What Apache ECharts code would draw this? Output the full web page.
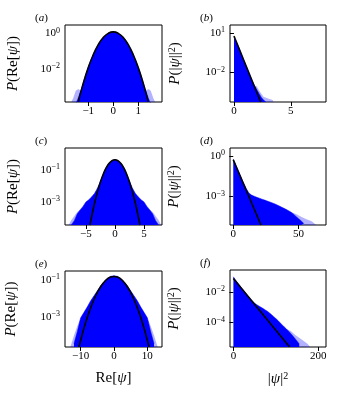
<!DOCTYPE html>
<html>
<head>
<meta charset="utf-8">
<script src="https://cdn.jsdelivr.net/npm/echarts@6/dist/echarts.min.js"></script>
<style>html,body{margin:0;background:#fff}</style>
</head>
<body>
<div id="chart" style="width:338px;height:400px"></div>
<script>
// all heights are log10 of the probability density
// fringe = the faint outer edge of the histograms (null splits left / right tail)

// (a) Re[psi], weak case
const aBinX = [-1.5,-1.4,-1.3,-1.2,-1.1,-1.0,-0.9,-0.8,-0.7,-0.6,-0.5,-0.4,-0.3,-0.2,-0.1,0,0.1,0.2,0.3,0.4,0.5,0.6,0.7,0.8,0.9,1.0,1.1,1.2,1.3,1.4,1.5]
const aHist = [-3.95,-3.6,-3.2,-2.75,-2.3,-1.9,-1.52,-1.18,-0.89,-0.63,-0.41,-0.23,-0.09,0.0,0.06,0.08,0.06,0.0,-0.09,-0.23,-0.41,-0.63,-0.89,-1.18,-1.52,-1.9,-2.3,-2.75,-3.2,-3.6,-3.95]
const aFringeX = [-1.7,-1.6,-1.5,-1.4,-1.3,null,1.3,1.4,1.5,1.6,1.7]
const aFringe = [-3.9,-3.6,-3.2,-3.1,-3.2,null,-3.2,-3.1,-3.2,-3.6,-3.9]
const aFitX = [-1.4,-1.2,-1.0,-0.8,-0.6,-0.4,-0.2,0,0.2,0.4,0.6,0.8,1.0,1.2,1.4]
const aFit = [-3.82,-2.79,-1.91,-1.19,-0.63,-0.23,0.005,0.085,0.005,-0.23,-0.63,-1.19,-1.91,-2.79,-3.82]

// (b) |psi|^2, weak case
const bBinX = [0,0.2,0.4,0.6,0.8,1.0,1.2,1.4,1.6,1.8,2.0,2.2,2.4,2.6,2.8]
const bHist = [0.7,0.38,-0.03,-0.47,-0.92,-1.35,-1.78,-2.2,-2.62,-3.0,-3.3,-3.6,-3.9,-4.1,-4.25]
const bFringeX = [1.8,2.0,2.3,2.6,3.0,3.4,3.5]
const bFringe = [-3.0,-3.05,-3.5,-3.85,-4.0,-4.1,-4.3]
const bFitX = [0,2.35]
const bFit = [0.8,-4.26]

// (c) Re[psi], intermediate case
const cBinX = [-7.5,-7,-6.5,-6,-5.5,-5,-4.5,-4,-3.5,-3,-2.5,-2,-1.5,-1,-0.5,0,0.5,1,1.5,2,2.5,3,3.5,4,4.5,5,5.5,6,6.5,7,7.5]
const cHist = [-4.45,-4.2,-3.78,-3.52,-3.3,-3.02,-2.88,-2.7,-2.48,-2.15,-1.72,-1.25,-0.86,-0.58,-0.42,-0.36,-0.42,-0.58,-0.86,-1.25,-1.72,-2.15,-2.48,-2.7,-2.88,-3.02,-3.3,-3.52,-3.78,-4.2,-4.45]
const cFringeX = [-8.0,-7.5,-7,-6.5,-6,null,6,6.5,7,7.5,8.0]
const cFringe = [-4.5,-4.15,-3.9,-3.65,-3.52,null,-3.52,-3.65,-3.9,-4.15,-4.5]
const cFitX = [-4.3,-4,-3.5,-3,-2.5,-2,-1.5,-1,-0.5,0,0.5,1,1.5,2,2.5,3,3.5,4,4.3]
const cFit = [-4.47,-3.92,-3.09,-2.37,-1.76,-1.26,-0.87,-0.59,-0.43,-0.37,-0.43,-0.59,-0.87,-1.26,-1.76,-2.37,-3.09,-3.92,-4.47]

// (d) |psi|^2, intermediate case
const dBinX = [0,2,4,6,8,10,12,14,16,18,20,22,24,26,28,30,32,34,36,38,40,42,44,46,48,50,52,54]
const dHist = [-0.22,-0.68,-1.13,-1.58,-2.02,-2.42,-2.75,-2.9,-2.98,-3.06,-3.13,-3.2,-3.27,-3.34,-3.41,-3.48,-3.56,-3.65,-3.74,-3.84,-3.94,-4.04,-4.15,-4.3,-4.48,-4.65,-4.82,-5.0]
const dFringeX = [44,48,52,56,60,64]
const dFringe = [-4.15,-4.3,-4.5,-4.7,-4.85,-5.15]
const dFitX = [0,21.2]
const dFit = [-0.27,-5.12]

// (e) Re[psi], strong case
const eBinX = [-12,-11,-10,-9,-8,-7,-6,-5,-4,-3,-2,-1,0,1,2,3,4,5,6,7,8,9,10,11,12]
const eHist = [-4.45,-3.8,-3.05,-2.75,-2.45,-2.12,-1.85,-1.58,-1.3,-1.08,-0.9,-0.79,-0.76,-0.79,-0.9,-1.08,-1.3,-1.58,-1.85,-2.12,-2.45,-2.75,-3.05,-3.8,-4.45]
const eFringeX = [-13.2,-12.5,-12,-11,-10,null,10,11,12,12.5,13.2]
const eFringe = [-4.7,-4.3,-4.0,-3.5,-3.05,null,-3.05,-3.5,-4.0,-4.3,-4.7]
const eFitX = [-10.5,-10,-9,-8,-7,-6,-5,-4,-3,-2,-1,0,1,2,3,4,5,6,7,8,9,10,10.5]
const eFit = [-4.63,-4.27,-3.61,-3.02,-2.5,-2.05,-1.67,-1.36,-1.11,-0.94,-0.83,-0.8,-0.83,-0.94,-1.11,-1.36,-1.67,-2.05,-2.5,-3.02,-3.61,-4.27,-4.63]

// (f) |psi|^2, strong case
const fBinX = [0,5,10,15,20,25,30,35,40,45,50,55,60,65,70,75,80,85,90,95,100,105,110,115,120,125,130,135,140,145,150,155]
const fHist = [-1.02,-1.24,-1.42,-1.6,-1.78,-1.96,-2.13,-2.3,-2.47,-2.62,-2.74,-2.84,-2.93,-3.01,-3.09,-3.18,-3.27,-3.38,-3.5,-3.62,-3.75,-3.88,-4.02,-4.16,-4.3,-4.43,-4.57,-4.72,-4.88,-5.05,-5.22,-5.4]
const fFringeX = [125,135,145,160,175,182]
const fFringe = [-4.43,-4.55,-4.8,-5.1,-5.4,-5.65]
const fFitX = [0,131.8]
const fFit = [-1.13,-5.59]

// tick values
const aXTicks = [-1,0,1], aYTicks = [1,0.01]
const bXTicks = [0,5], bYTicks = [10,0.01]
const cXTicks = [-5,0,5], cYTicks = [0.1,0.001]
const dXTicks = [0,50], dYTicks = [1,0.001]
const eXTicks = [-10,0,10], eYTicks = [0.1,0.001]
const fXTicks = [0,200], fYTicks = [0.01,0.0001]

const SERIF = 'Liberation Serif'
const BLUE = '#0000ff'

const pts = (xs, ls) => xs.map((x, i) => x === null ? null : [x, Math.pow(10, ls[i])])
const minus = s => String(s).replace('-', '\u2212')

const panels = [
  { tag: 'a', kind: 're', grid: [65, 25, 97, 77], xr: [-1.93, 1.95], yr: [-3.83, 0.47], xt: aXTicks, yt: aYTicks,
    hist: pts(aBinX, aHist), fringe: pts(aFringeX, aFringe), fit: pts(aFitX, aFit), smooth: true, gap: 44 },
  { tag: 'b', kind: 'abs', grid: [230, 25, 96, 77], xr: [-0.35, 8.1], yr: [-4.26, 1.64], xt: bXTicks, yt: bYTicks,
    hist: pts(bBinX, bHist), fringe: pts(bFringeX, bFringe), fit: pts(bFitX, bFit), smooth: false, gap: 46 },
  { tag: 'c', kind: 're', grid: [65, 148, 97, 77], xr: [-8.6, 8.1], yr: [-4.47, 0.37], xt: cXTicks, yt: cYTicks,
    hist: pts(cBinX, cHist), fringe: pts(cFringeX, cFringe), fit: pts(cFitX, cFit), smooth: true, gap: 44 },
  { tag: 'd', kind: 'abs', grid: [230, 148, 96, 77], xr: [-2.5, 71], yr: [-5.12, 0.6], xt: dXTicks, yt: dYTicks,
    hist: pts(dBinX, dHist), fringe: pts(dFringeX, dFringe), fit: pts(dFitX, dFit), smooth: false, gap: 47 },
  { tag: 'e', kind: 're', grid: [65, 271, 97, 76], xr: [-14.7, 14.4], yr: [-4.64, -0.5], xt: eXTicks, yt: eYTicks,
    hist: pts(eBinX, eHist), fringe: pts(eFringeX, eFringe), fit: pts(eFitX, eFit), smooth: true, gap: 46, xname: 're' },
  { tag: 'f', kind: 'abs', grid: [230, 270, 96, 77], xr: [-8, 218], yr: [-5.6, -0.58], xt: fXTicks, yt: fYTicks,
    hist: pts(fBinX, fHist), fringe: pts(fFringeX, fFringe), fit: pts(fFitX, fFit), smooth: false, gap: 47, xname: 'abs' }
]

const nameRich = {
  n: { fontFamily: SERIF, fontSize: 15, color: '#000' },
  i: { fontFamily: SERIF, fontSize: 15, fontStyle: 'italic', color: '#000' },
  s: { fontFamily: SERIF, fontSize: 10, color: '#000', verticalAlign: 'bottom', padding: [0, 0, 7, 0] }
}
const tickRich = {
  b: { fontFamily: SERIF, fontSize: 11, color: '#000' },
  s: { fontFamily: SERIF, fontSize: 8, color: '#000', verticalAlign: 'bottom', padding: [0, 0, 6, 0] }
}
const yNames = {
  re: '{i|P}{n|(Re[}{i|ψ}{n|])}',
  abs: '{i|P}{n|(|}{i|ψ}{n|||}{s|2}{n|)}'
}
const xNames = {
  re: '{n|Re[}{i|ψ}{n|]}',
  abs: '{n||}{i|ψ}{n||}{s|2}'
}

var myChart = echarts.init(document.getElementById('chart'), null, { renderer: 'canvas' })

var option = {
  animation: false,
  backgroundColor: '#fff',
  title: panels.map(p => ({
    text: '{n|(}{i|' + p.tag + '}{n|)}',
    left: p.grid[0] - 30,
    top: p.grid[1] - 12,
    padding: 0,
    textStyle: { fontWeight: 'normal', rich: {
      n: { fontFamily: SERIF, fontSize: 11, fontWeight: 'normal', color: '#000' },
      i: { fontFamily: SERIF, fontSize: 11, fontWeight: 'normal', fontStyle: 'italic', color: '#000' }
    } }
  })),
  grid: panels.map(p => ({
    left: p.grid[0], top: p.grid[1], width: p.grid[2], height: p.grid[3],
    show: true, borderColor: '#000', borderWidth: 1, backgroundColor: 'transparent',
    containLabel: false
  })),
  xAxis: panels.map((p, k) => ({
    type: 'value', gridIndex: k, min: p.xr[0], max: p.xr[1],
    axisLine: { show: false },
    axisTick: { show: true, length: 4, customValues: p.xt, lineStyle: { color: '#000', width: 1 } },
    axisLabel: { customValues: p.xt, margin: 4, fontFamily: SERIF, fontSize: 11, color: '#000',
      formatter: v => minus(v) },
    splitLine: { show: false },
    name: p.xname ? xNames[p.xname] : '',
    nameLocation: 'middle', nameGap: 24,
    nameTextStyle: { rich: nameRich }
  })),
  yAxis: panels.map((p, k) => ({
    type: 'log', gridIndex: k, min: Math.pow(10, p.yr[0]), max: Math.pow(10, p.yr[1]),
    axisLine: { show: false },
    axisTick: { show: true, length: 4, customValues: p.yt, lineStyle: { color: '#000', width: 1 } },
    axisLabel: { customValues: p.yt, margin: 5,
      formatter: v => '{b|10}{s|' + minus(Math.round(Math.log10(v))) + '}',
      rich: tickRich },
    minorTick: { show: false },
    splitLine: { show: false },
    name: yNames[p.kind], nameLocation: 'middle', nameRotate: 90, nameGap: p.gap,
    nameTextStyle: { rich: nameRich }
  })),
  series: panels.flatMap((p, k) => [
    {
      type: 'line', xAxisIndex: k, yAxisIndex: k, data: p.fringe, connectNulls: false,
      showSymbol: false, silent: true,
      lineStyle: { width: 0 },
      areaStyle: { color: 'rgba(0,0,255,0.3)', origin: 'start', opacity: 1 }
    },
    {
      type: 'line', xAxisIndex: k, yAxisIndex: k, data: p.hist,
      showSymbol: false, silent: true,
      lineStyle: { width: 0.5, color: BLUE },
      areaStyle: { color: BLUE, origin: 'start', opacity: 1 }
    },
    {
      type: 'line', xAxisIndex: k, yAxisIndex: k, data: p.fit, smooth: p.smooth,
      showSymbol: false, silent: true, z: 5,
      lineStyle: { width: 1.6, color: '#000' }
    }
  ])
}
myChart.setOption(option)
</script>
</body>
</html>
